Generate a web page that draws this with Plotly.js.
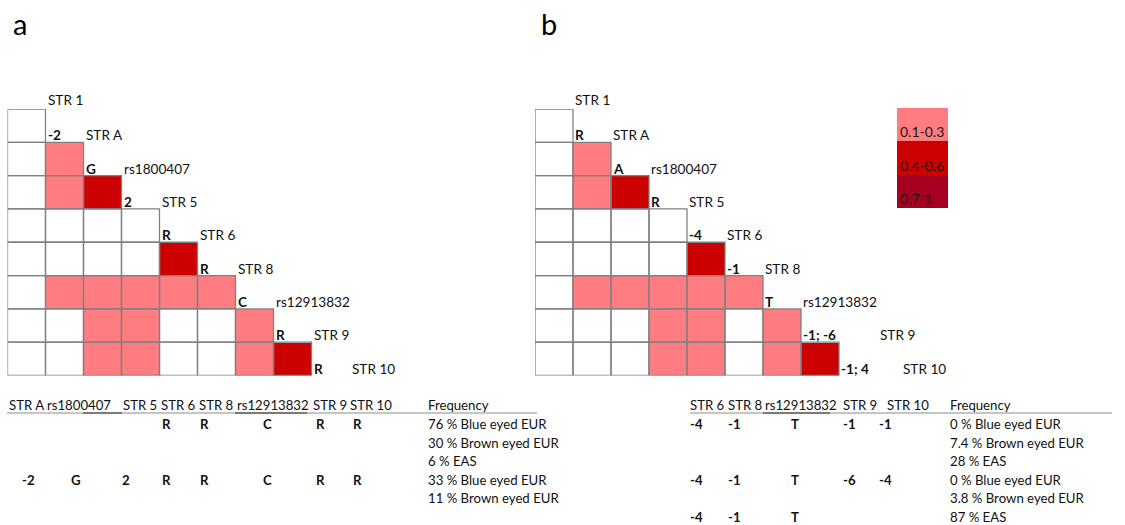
<!DOCTYPE html>
<html><head><meta charset="utf-8">
<script src="https://cdn.plot.ly/plotly-3.0.1.min.js"></script>
<style>html,body{margin:0;padding:0;background:#fff}#chart{width:1125px;height:525px}</style>
</head><body><div id="chart"></div>
<script>
// ---------------- DATA ----------------
const topMarker = "STR 1";
const markers = ["STR A","rs1800407","STR 5","STR 6","STR 8","rs12913832","STR 9","STR 10"];
// LD level per cell: row k = markers[k] vs (STR 1, markers[0..k-1]); 0 = below 0.1, 1 = 0.1-0.3, 2 = 0.4-0.6, 3 = 0.7-1
const ldA = [
  [0],
  [0,1],
  [0,1,2],
  [0,0,0,0],
  [0,0,0,0,2],
  [0,1,1,1,1,1],
  [0,0,1,1,0,0,1],
  [0,0,1,1,0,0,1,2]
];
const ldB = [
  [0],
  [0,1],
  [0,1,2],
  [0,0,0,0],
  [0,0,0,0,2],
  [0,1,1,1,1,1],
  [0,0,0,1,1,0,1],
  [0,0,0,1,1,0,1,2]
];
const allelesA = ["-2","G","2","R","R","C","R","R"];
const allelesB = ["R","A","R","-4","-1","T","-1; -6","-1; 4"];
const legendLevels = [1,2,3];
const legendLabels = ["0.1-0.3","0.4-0.6","0.7-1"];

const tableHeadA = ["STR A","rs1800407","STR 5","STR 6","STR 8","rs12913832","STR 9","STR 10"];
const tableRowsA = [
  ["","","","R","R","C","R","R"],
  ["","","","","","","",""],
  ["","","","","","","",""],
  ["-2","G","2","R","R","C","R","R"],
  ["","","","","","","",""]
];
const freqA = ["76 % Blue eyed EUR","30 % Brown eyed EUR","6 % EAS","33 % Blue eyed EUR","11 % Brown eyed EUR"];

const tableHeadB = ["STR 6","STR 8","rs12913832","STR 9","STR 10"];
const tableRowsB = [
  ["-4","-1","T","-1","-1"],
  ["","","","",""],
  ["","","","",""],
  ["-4","-1","T","-6","-4"],
  ["","","","",""],
  ["-4","-1","T","",""]
];
const freqB = ["0 % Blue eyed EUR","7.4 % Brown eyed EUR","28 % EAS","0 % Blue eyed EUR","3.8 % Brown eyed EUR","87 % EAS"];

// ---------------- STYLE / LAYOUT ----------------
const W = 1125, H = 525;
const FONT = "Lato, 'Open Sans', sans-serif";
const colorscale = [[0,'#ffffff'],[1/3,'#ff7c80'],[2/3,'#cc0000'],[1,'#a50021']];
const gridColor = '#808080';
const px = v => v / W, py = v => 1 - v / H;
const CELL = 38, EXTRA = 3;
const TFONT = 13.2;

const panels = [
  {ld: ldA, al: allelesA, ax: '', x0: 7.5, nameShift: [0,0,0,0,0,0,0,0]},
  {ld: ldB, al: allelesB, ax: '2', x0: 535, nameShift: [0,0,0,0,0,0,39,24]}
];
const gridTop = 109, gridBottom = 375.5;

const traces = [];
const annotations = [];
const shapes = [];
const layout = {
  width: W, height: H, margin: {l:0, r:0, t:0, b:0},
  paper_bgcolor: '#fff', plot_bgcolor: 'rgba(0,0,0,0)', showlegend: false,
  font: {family: FONT, size: 13.6, color: '#111'},
  annotations, shapes
};
const hiddenAxis = (dom, range) => ({domain: dom, range: range, visible: false, showgrid: false, zeroline: false, fixedrange: true});

panels.forEach(p => {
  const n = p.ld.length;
  const z = [];
  for (let r = 0; r < n; r++) {
    const row = [];
    for (let c = 0; c < n; c++) row.push(c < p.ld[r].length ? p.ld[r][c] : null);
    z.push(row);
  }
  const idx = [...Array(n).keys()];
  const xa = 'x' + p.ax, ya = 'y' + p.ax;
  traces.push({type: 'heatmap', z: z, x: idx, y: idx, xaxis: xa, yaxis: ya,
    zmin: 0, zmax: 3, colorscale: colorscale, showscale: false, hoverinfo: 'skip'});
  // cell borders
  const bx = [], by = [];
  p.ld.forEach((row, r) => row.forEach((v, c) => {
    bx.push(c-0.5, c+0.5, c+0.5, c-0.5, c-0.5, null);
    by.push(r-0.5, r-0.5, r+0.5, r+0.5, r-0.5, null);
  }));
  traces.push({type: 'scatter', mode: 'lines', x: bx, y: by, xaxis: xa, yaxis: ya,
    line: {color: gridColor, width: 1.3}, hoverinfo: 'skip', connectgaps: false});
  layout['xaxis' + p.ax] = hiddenAxis([px(p.x0), px(p.x0 + CELL * (n + EXTRA))], [-0.5, n - 0.5 + EXTRA]);
  layout['yaxis' + p.ax] = hiddenAxis([py(gridBottom), py(gridTop)], [n - 0.5, -0.5]);
  // labels
  annotations.push({xref: xa, yref: ya, x: 0.5, y: -0.5, xanchor: 'left', yanchor: 'bottom',
    text: topMarker, showarrow: false, xshift: 0, yshift: -1});
  markers.forEach((m, k) => {
    annotations.push({xref: xa, yref: ya, x: k + 0.5, y: k + 0.5, xanchor: 'left', yanchor: 'bottom',
      text: '<b>' + p.al[k] + '</b>', showarrow: false, xshift: 0, yshift: -3});
    annotations.push({xref: xa, yref: ya, x: k + 1.5, y: k + 0.5, xanchor: 'left', yanchor: 'bottom',
      text: m, showarrow: false, xshift: 0 + p.nameShift[k], yshift: -3});
  });
});

// legend as heatmap
traces.push({type: 'heatmap', z: legendLevels.map(v => [v]), x: [0], y: [0,1,2], xaxis: 'x3', yaxis: 'y3',
  zmin: 0, zmax: 3, colorscale: colorscale, showscale: false, hoverinfo: 'skip'});
layout.xaxis3 = hiddenAxis([px(897), px(948)], [-0.5, 0.5]);
layout.yaxis3 = hiddenAxis([py(208), py(108)], [2.5, -0.5]);
legendLabels.forEach((t, i) => annotations.push({xref: 'x3', yref: 'y3', x: -0.5, y: i + 0.5,
  xanchor: 'left', yanchor: 'bottom', text: t, showarrow: false, xshift: 1, yshift: -1,
  font: {size: 14, color: '#1a1a1a'}}));

// panel letters
annotations.push({xref: 'paper', yref: 'paper', x: px(11), y: py(23), xanchor: 'left', yanchor: 'middle',
  text: 'a', showarrow: false, font: {size: 29, color: '#000'}});
annotations.push({xref: 'paper', yref: 'paper', x: px(539), y: py(23), xanchor: 'left', yanchor: 'middle',
  text: 'b', showarrow: false, font: {size: 29, color: '#000'}});

// tables
function tAnn(x, y, text, anchor) {
  annotations.push({xref: 'paper', yref: 'paper', x: px(x), y: py(y), xanchor: anchor, yanchor: 'middle',
    text: text, showarrow: false, borderpad: 0, font: {size: TFONT}});
}
function drawTable(cfg) {
  cfg.head.forEach((h, i) => tAnn(cfg.headX[i], cfg.headY, h, 'left'));
  tAnn(cfg.freqX, cfg.headY, 'Frequency', 'left');
  cfg.rows.forEach((row, r) => {
    const y = cfg.rowY0 + cfg.rowStep * r;
    row.forEach((v, i) => { if (v) tAnn(cfg.valX[i], y, '<b>' + v + '</b>', cfg.valAnchor[i]); });
    tAnn(cfg.freqX, y, cfg.freq[r], 'left');
  });
  shapes.push({type: 'line', xref: 'paper', yref: 'paper', x0: px(cfg.line[0]), x1: px(cfg.line[1]),
    y0: py(cfg.lineY), y1: py(cfg.lineY), line: {color: '#8c8c8c', width: 1}});
  cfg.dark.forEach(d => shapes.push({type: 'line', xref: 'paper', yref: 'paper', x0: px(d[0]), x1: px(d[1]),
    y0: py(cfg.lineY), y1: py(cfg.lineY), line: {color: '#333', width: 1.2}}));
}
drawTable({head: tableHeadA, rows: tableRowsA, freq: freqA,
  headX: [8, 46, 122, 160, 198, 236, 312, 349], freqX: 427,
  valX: [28, 76, 126, 166, 204, 267, 320, 357], valAnchor: Array(8).fill('center'),
  headY: 405, rowY0: 424, rowStep: 18.6, line: [7, 537], lineY: 413, dark: [[83, 122], [235, 307]]});
drawTable({head: tableHeadB, rows: tableRowsB, freq: freqB,
  headX: [689, 727, 764, 842, 886], freqX: 949,
  valX: [689, 727, 795, 842, 878], valAnchor: ['left','left','center','left','left'],
  headY: 405, rowY0: 424, rowStep: 18.6, line: [690, 1112], lineY: 413, dark: [[763, 830]]});

Plotly.newPlot('chart', traces, layout, {staticPlot: true, displayModeBar: false});
</script>
</body></html>
